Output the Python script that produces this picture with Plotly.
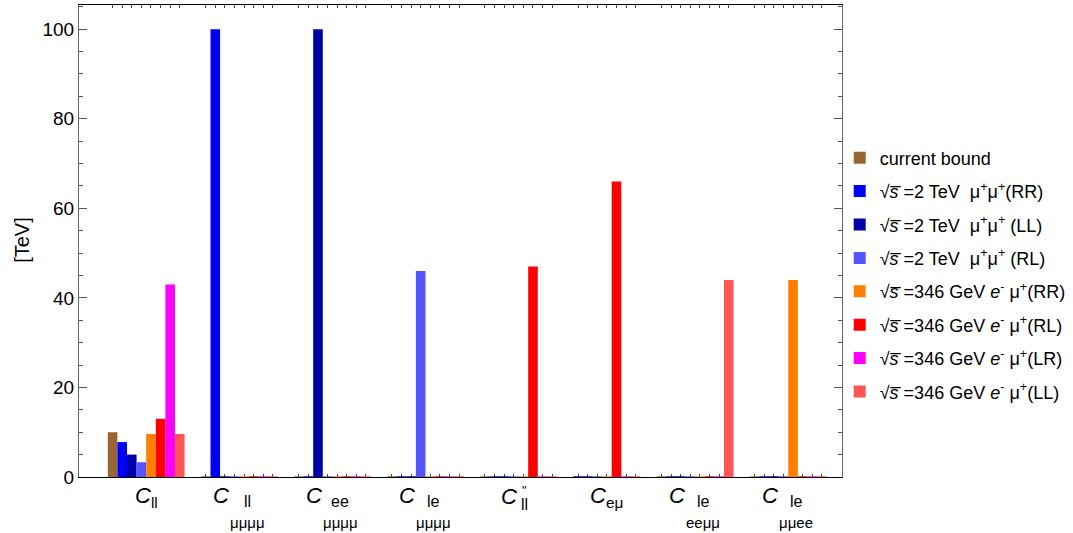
import plotly.graph_objects as go

# ---------------- data ----------------
categories = ["C_ll", "C_ll_mmmm", "C_ee_mmmm", "C_le_mmmm", "C''_ll", "C_em", "C_le_eemm", "C_le_mmee"]

series_names = [
    "current bound",
    "√<i>s\u0305</i>\u00a0=2 TeV\u00a0 μ<sup>+</sup>μ<sup>+</sup>(RR)",
    "√<i>s\u0305</i>\u00a0=2 TeV\u00a0 μ<sup>+</sup>μ<sup>+</sup>\u00a0(LL)",
    "√<i>s\u0305</i>\u00a0=2 TeV\u00a0 μ<sup>+</sup>μ<sup>+</sup>\u00a0(RL)",
    "√<i>s\u0305</i>\u00a0=346 GeV <i>e</i><sup>-</sup>\u00a0μ<sup>+</sup>(RR)",
    "√<i>s\u0305</i>\u00a0=346 GeV <i>e</i><sup>-</sup>\u00a0μ<sup>+</sup>(RL)",
    "√<i>s\u0305</i>\u00a0=346 GeV <i>e</i><sup>-</sup>\u00a0μ<sup>+</sup>(LR)",
    "√<i>s\u0305</i>\u00a0=346 GeV <i>e</i><sup>-</sup>\u00a0μ<sup>+</sup>(LL)",
]

# None = entry absent from that group
current_bound = [10, 0, 0, 0, 0, None, 0, 0]
mumu2_RR = [7.8, 100, 0, 0, 0, 0, 0, 0]
mumu2_LL = [5.0, 0, 100, 0, 0, 0, 0, 0]
mumu2_RL = [3.3, 0, 0, 46, 0, 0, 0, 0]
emu346_RR = [9.6, 0, 0, 0, 0, 0, 0, 44]
emu346_RL = [13, 0, 0, 0, 47, 66, 0, 0]
emu346_LR = [43, 0, 0, 0, 0, 0, 0, 0]
emu346_LL = [9.6, 0, 0, 0, 0, 0, 44, 0]

all_series = [current_bound, mumu2_RR, mumu2_LL, mumu2_RL, emu346_RR, emu346_RL, emu346_LR, emu346_LL]

colors = ["#996633", "#0000FF", "#0000A8", "#5555FF", "#FF8000", "#FF0000", "#FF00FF", "#FF5555"]

# label parts: (main, superscript, sub row 1, sub row 2)
label_parts = [
    ("C", "", "ll", ""),
    ("C", "", "ll", "μμμμ"),
    ("C", "", "ee", "μμμμ"),
    ("C", "", "le", "μμμμ"),
    ("C", "\"", "ll", ""),
    ("C", "", "eμ", ""),
    ("C", "", "le", "eeμμ"),
    ("C", "", "le", "μμee"),
]

# ---------------- layout of bars ----------------
GAP = 1.7
pos = 0.0
centers = [[None] * len(categories) for _ in all_series]
group_centers = []
for ci in range(len(categories)):
    start = pos
    for si, s in enumerate(all_series):
        if s[ci] is not None:
            centers[si][ci] = pos + 0.5
            pos += 1
    group_centers.append((start + pos) / 2)
    end = pos
    pos += GAP
x_min, x_max = -3.0, end + 1.6

FONT = "Liberation Sans, Arial, sans-serif"
fig = go.Figure()

tick_positions = []
for si, s in enumerate(all_series):
    xs, ys = [], []
    lx, ly = [], []
    for ci, v in enumerate(s):
        if v is None:
            continue
        c = centers[si][ci]
        tick_positions.append(c)
        xs.append(c)
        ys.append(v)
        if v == 0:
            lx += [c - 0.5, c + 0.5, None]
            ly += [0, 0, None]
    fig.add_trace(go.Bar(
        x=xs, y=ys, width=1, name=series_names[si],
        marker=dict(color=colors[si], line=dict(width=0)),
        legendgroup=str(si), showlegend=True,
    ))
    fig.add_trace(go.Scatter(
        x=lx, y=ly, mode="lines", line=dict(color=colors[si], width=1.5),
        showlegend=False, hoverinfo="skip", cliponaxis=False, legendgroup=str(si),
    ))

tick_positions.sort()

fig.update_layout(
    width=1073, height=533,
    margin=dict(l=79, r=231, t=5, b=56, autoexpand=False),
    barmode="overlay",
    plot_bgcolor="white", paper_bgcolor="white",
    font=dict(family=FONT, color="black"),
    legend=dict(
        x=0.997, xanchor="left", y=0.715, yanchor="top",
        font=dict(size=18, family=FONT),
        tracegroupgap=7, bgcolor="rgba(0,0,0,0)",
    ),
)

fig.update_xaxes(
    range=[x_min, x_max], showgrid=False, zeroline=False,
    tickmode="array", tickvals=tick_positions, ticktext=[""] * len(tick_positions),
    ticks="inside", ticklen=3, tickwidth=1, tickcolor="#444",
    showline=True, linecolor="black", linewidth=1, mirror="ticks",
    layer="below traces",
)
fig.update_yaxes(
    range=[0, 105.4], showgrid=False, zeroline=False,
    tickvals=[0, 20, 40, 60, 80, 100], ticks="inside", ticklen=8, tickwidth=1, tickcolor="#555",
    tickfont=dict(size=19, family=FONT),
    minor=dict(dtick=5, ticks="inside", ticklen=4, tickcolor="#555", showgrid=False),
    showline=True, linecolor="#666", linewidth=1, mirror="ticks",
    layer="below traces",
)

# y title
fig.add_annotation(
    text="[TeV]", xref="paper", yref="paper", x=-0.075, y=0.502,
    textangle=-90, showarrow=False, font=dict(size=20, family=FONT),
    xanchor="center", yanchor="middle",
)

# category labels
for gc, (main, sup, r1, r2) in zip(group_centers, label_parts):
    stacked = r2 != ""
    common = dict(x=gc, xref="x", y=0, yref="paper", showarrow=False)
    if stacked:
        fig.add_annotation(text="<i>%s</i>" % main, xshift=-18, yshift=-18,
                           font=dict(size=22, family=FONT), xanchor="center", yanchor="middle", **common)
        fig.add_annotation(text=r1, xshift=8, yshift=-24,
                           font=dict(size=16, family=FONT), xanchor="center", yanchor="middle", **common)
        fig.add_annotation(text=r2, xshift=8, yshift=-45,
                           font=dict(size=15, family=FONT), xanchor="center", yanchor="middle", **common)
    elif sup:
        fig.add_annotation(text="<i>%s</i>" % main, xshift=0, yshift=-19,
                           font=dict(size=22, family=FONT), xanchor="right", yanchor="middle", **common)
        fig.add_annotation(text=r1, xshift=0, yshift=-27,
                           font=dict(size=16, family=FONT), xanchor="left", yanchor="middle", **common)
        fig.add_annotation(text=sup, xshift=1, yshift=-13,
                           font=dict(size=13, family=FONT), xanchor="left", yanchor="middle", **common)
    else:
        fig.add_annotation(text="<i>%s</i><sub>%s</sub>" % (main, r1), xshift=0, yshift=-20,
                           font=dict(size=22, family=FONT), xanchor="center", yanchor="middle", **common)

fig.write_html("out.html")
